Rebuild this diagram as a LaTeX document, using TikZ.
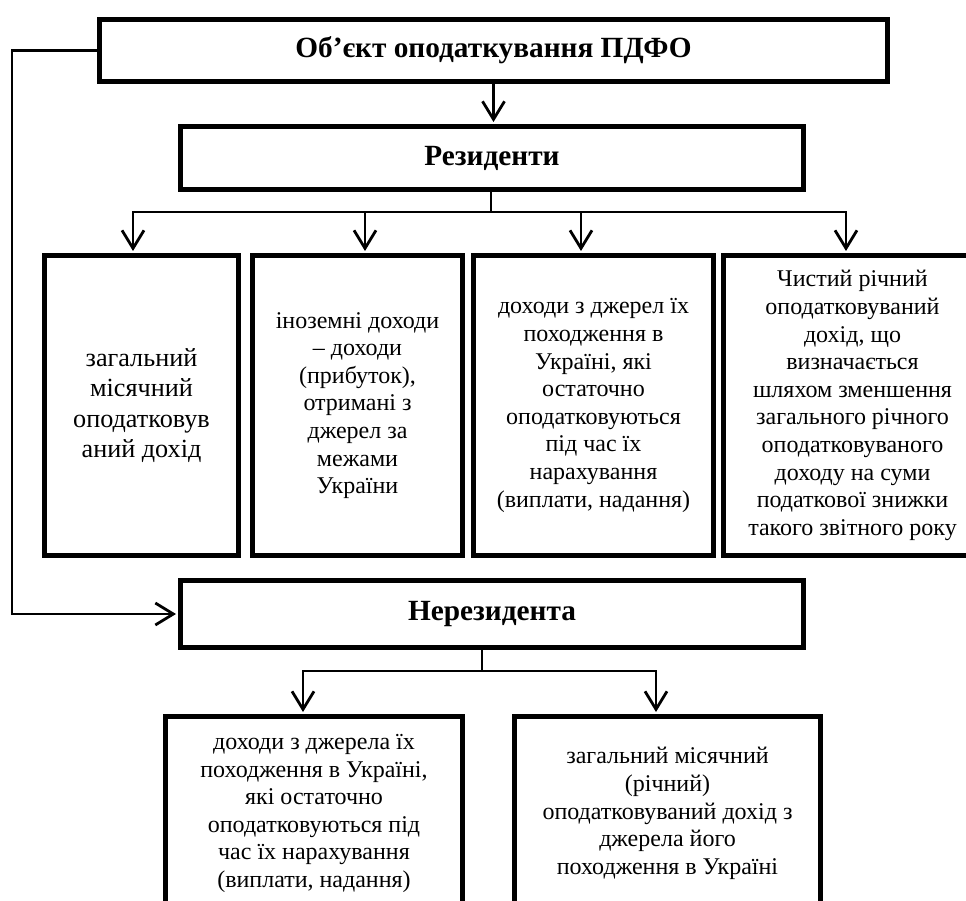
\documentclass[tikz,border=0pt]{standalone}
\usepackage{fontspec}
\setmainfont{Liberation Serif}
\usetikzlibrary{arrows.meta}
\begin{document}
\begin{tikzpicture}[x=1pt,y=-1pt,
  box/.style={draw,line width=5pt,rectangle,inner sep=0pt,anchor=north west,align=center,font=\fontsize{24}{27.6}\selectfont},
  hbox/.style={box,font=\fontsize{29.3}{33}\selectfont\bfseries},
  conn/.style={line width=2.5pt,line join=miter},
  arr/.style={conn,shorten >=2pt,-{Straight Barb[length=18pt,width=22pt,line width=2.8pt]}}]
\useasboundingbox (0,0) rectangle (966,901);
\clip (0,0) rectangle (966,901);
% header boxes
\node[hbox,minimum width=788pt,minimum height=62pt] (obj) at (97,17) {Об’єкт оподаткування ПДФО};
\node[hbox,minimum width=623pt,minimum height=63pt] (res) at (178,124) {Резиденти};
\node[hbox,minimum width=623pt,minimum height=67pt] (nonres) at (178,578) {Нерезидента};
% resident boxes
\node[box,minimum width=194pt,minimum height=300pt,font=\fontsize{26.2}{30.5}\selectfont] (b1) at (42,253) {загальний\\місячний\\оподатковув\\аний дохід};
\node[box,minimum width=210pt,minimum height=300pt] (b2) at (250,253) {іноземні доходи\\– доходи\\(прибуток),\\отримані з\\джерел за\\межами\\України};
\node[box,minimum width=240pt,minimum height=300pt] (b3) at (471,253) {доходи з джерел їх\\походження в\\Україні, які\\остаточно\\оподатковуються\\під час їх\\нарахування\\(виплати, надання)};
\node[box,minimum width=258pt,minimum height=300pt] (b4) at (721,253) {Чистий річний\\оподатковуваний\\дохід, що\\визначається\\шляхом зменшення\\загального річного\\оподатковуваного\\доходу на суми\\податкової знижки\\такого звітного року};
% non-resident boxes
\node[box,minimum width=297pt,minimum height=194pt] (b5) at (163,714) {доходи з джерела їх\\походження в Україні,\\які остаточно\\оподатковуються під\\час їх нарахування\\(виплати, надання)};
\node[box,minimum width=306pt,minimum height=194pt] (b6) at (512,714) {загальний місячний\\(річний)\\оподатковуваний дохід з\\джерела його\\походження в Україні};
% coordinates
\coordinate (lc) at (12,50);
\coordinate (t1) at (133,212);
\coordinate (t2) at (365,212);
\coordinate (t3) at (581,212);
\coordinate (t4) at (846,212);
\coordinate (jr) at (491,212);
\coordinate (jn) at (482,671);
\coordinate (n1) at (303,671);
\coordinate (n2) at (656,671);
% connectors
\draw[arr] (obj.south) -- (obj.south |- res.north);
\draw[arr] (obj.west) -- (obj.west -| lc) |- (nonres.west);
\draw[conn] (res.south -| jr) -- (jr);
\draw[arr] (jr) -- (t1) -- (t1 |- b1.north);
\draw[arr] (jr) -- (t4) -- (t4 |- b4.north);
\draw[arr] (t2) -- (t2 |- b2.north);
\draw[arr] (t3) -- (t3 |- b3.north);
\draw[conn] (nonres.south -| jn) -- (jn);
\draw[arr] (jn) -- (n1) -- (n1 |- b5.north);
\draw[arr] (jn) -- (n2) -- (n2 |- b6.north);
\end{tikzpicture}
\end{document}
